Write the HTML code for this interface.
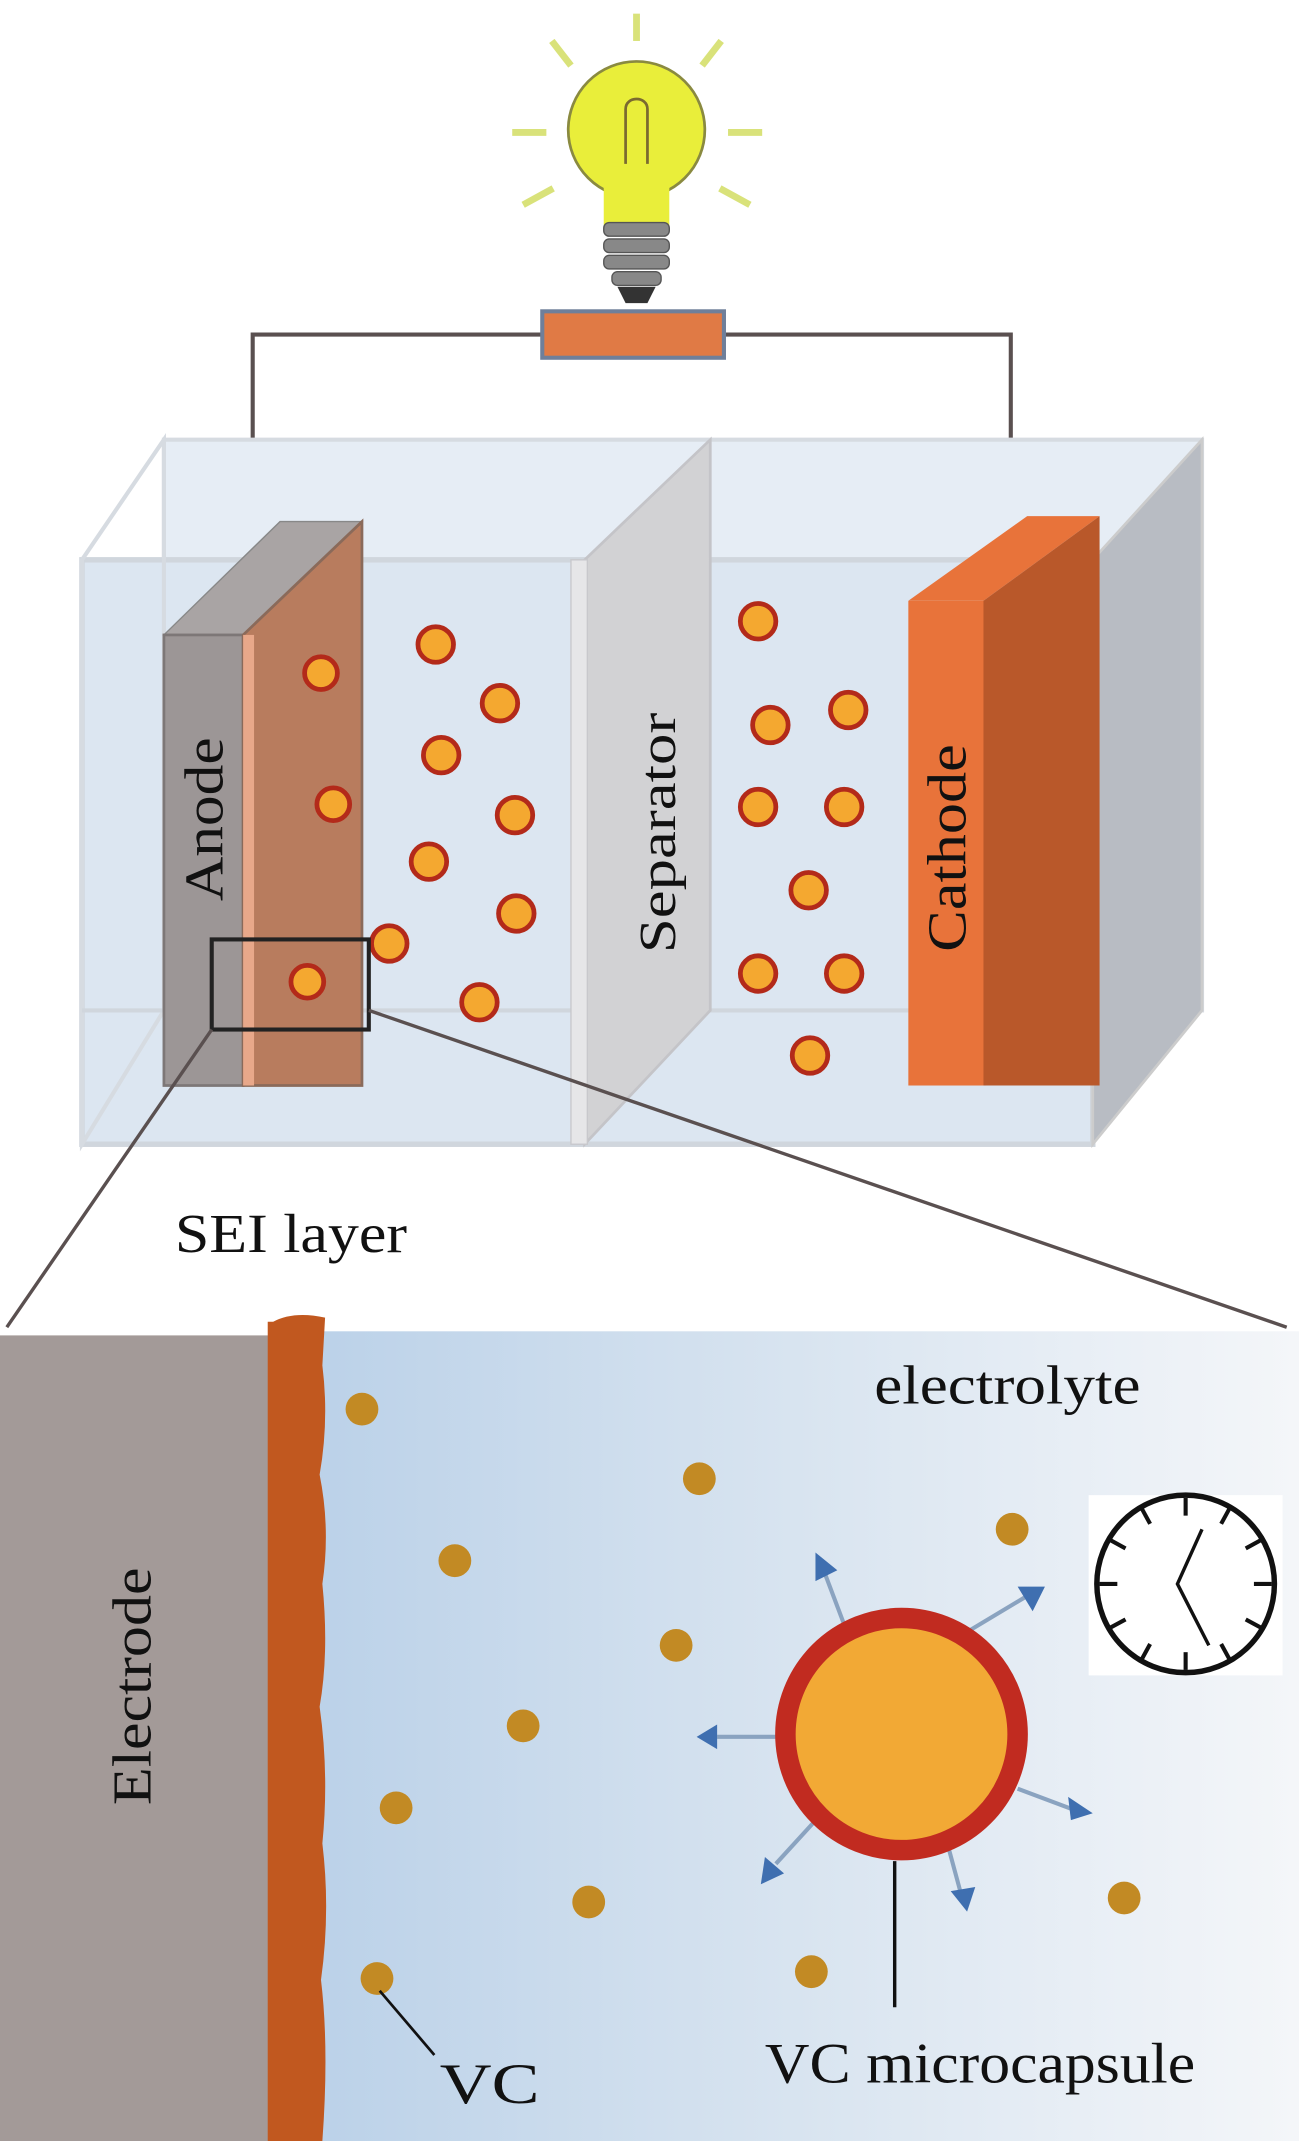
<!DOCTYPE html>
<html><head><meta charset="utf-8"><style>html,body{margin:0;padding:0;background:#fff}svg{display:block}</style></head>
<body>
<svg width="1299" height="2141" viewBox="0 0 951 1568" preserveAspectRatio="none" xmlns="http://www.w3.org/2000/svg">
<defs>
<linearGradient id="el" x1="0" x2="1" y1="0" y2="0">
<stop offset="0" stop-color="#b9d0e8"/><stop offset="0.45" stop-color="#d5e2ef"/><stop offset="1" stop-color="#f4f6f9"/>
</linearGradient>
</defs>
<rect width="951" height="1568" fill="#fff"/>
<g stroke="#d9e27a" stroke-width="5">
<line x1="466" y1="10" x2="466" y2="30"/>
<line x1="404" y1="30" x2="418" y2="48"/>
<line x1="528" y1="30" x2="514" y2="48"/>
<line x1="375" y1="97" x2="400" y2="97"/>
<line x1="533" y1="97" x2="558" y2="97"/>
<line x1="383" y1="150" x2="405" y2="138"/>
<line x1="549" y1="150" x2="527" y2="138"/>
</g>
<circle cx="466" cy="95" r="50" fill="#e9ee3a" stroke="#8a8a40" stroke-width="2"/>
<rect x="442" y="135" width="48" height="30" fill="#e9ee3a"/>
<path d="M458 120 v-40 c0-10 16-10 16 0 v40" fill="none" stroke="#7a6a30" stroke-width="2"/>
<g fill="#888" stroke="#555">
<rect x="442" y="163" width="48" height="10" rx="4"/>
<rect x="442" y="175" width="48" height="10" rx="4"/>
<rect x="442" y="187" width="48" height="10" rx="4"/>
<rect x="448" y="199" width="36" height="10" rx="4"/>
</g>
<path d="M452 210 h28 l-6 12 h-16z" fill="#333"/>
<path d="M398 245 H185 V412" fill="none" stroke="#5a5050" stroke-width="3"/>
<path d="M530 245 H740 V412" fill="none" stroke="#5a5050" stroke-width="3"/>
<rect x="397" y="228" width="133" height="34" fill="#e07a45" stroke="#6f7f9a" stroke-width="3"/>
<rect x="120" y="322" width="760" height="418" fill="#e6edf5" stroke="#d6dbe1" stroke-width="3"/>
<rect x="60" y="410" width="740" height="428" fill="#dce6f1" stroke="#d0d6dd" stroke-width="4"/>
<polygon points="800,410 880,322 880,740 800,838" fill="#b8bcc3" stroke="#ccc" stroke-width="2"/>
<polygon points="60,410 120,322 120,740 60,838" fill="none" stroke="#d6dbe1" stroke-width="3"/>
<line x1="60" y1="740" x2="800" y2="740" stroke="#d0d6dd" stroke-width="3"/>
<polygon points="428,410 520,322 520,740 428,838" fill="#d2d2d4" stroke="#c4c4c8" stroke-width="2"/>
<rect x="418" y="410" width="12" height="428" fill="#e6e6e8" stroke="#c8c8cc"/>
<text transform="translate(494,698) rotate(-90)" font-family="Liberation Serif,serif" font-size="38" textLength="176" lengthAdjust="spacingAndGlyphs" fill="#111">Separator</text>
<polygon points="120,465 178,465 265,382 205,382" fill="#a9a4a4" stroke="#888"/>
<rect x="120" y="465" width="58" height="330" fill="#9c9696" stroke="#7d7777" stroke-width="2"/>
<polygon points="178,465 265,382 265,795 178,795" fill="#b87c5e" stroke="#8a6a5a" stroke-width="2"/>
<rect x="178" y="465" width="8" height="330" fill="#e8a88a"/>
<text transform="translate(163,660) rotate(-90)" font-family="Liberation Serif,serif" font-size="40" textLength="120" lengthAdjust="spacingAndGlyphs" fill="#111">Anode</text>
<polygon points="665,440 720,440 805,378 752,378" fill="#e8733a"/>
<rect x="665" y="440" width="57" height="355" fill="#e8733a"/>
<polygon points="720,440 805,378 805,795 720,795" fill="#b9582a"/>
<text transform="translate(707,697) rotate(-90)" font-family="Liberation Serif,serif" font-size="40" textLength="152" lengthAdjust="spacingAndGlyphs" fill="#111">Cathode</text>
<g fill="#f4a830" stroke="#b32a1a" stroke-width="3.5">
<circle cx="235" cy="493" r="12"/><circle cx="244" cy="589" r="12"/><circle cx="225" cy="719" r="12"/>
<circle cx="319" cy="472" r="13"/><circle cx="366" cy="515" r="13"/><circle cx="323" cy="553" r="13"/>
<circle cx="377" cy="597" r="13"/><circle cx="314" cy="631" r="13"/><circle cx="378" cy="669" r="13"/>
<circle cx="285" cy="691" r="13"/><circle cx="351" cy="734" r="13"/>
<circle cx="555" cy="455" r="13"/><circle cx="564" cy="531" r="13"/><circle cx="621" cy="520" r="13"/>
<circle cx="555" cy="591" r="13"/><circle cx="618" cy="591" r="13"/><circle cx="592" cy="652" r="13"/>
<circle cx="555" cy="713" r="13"/><circle cx="618" cy="713" r="13"/><circle cx="593" cy="773" r="13"/>
</g>
<rect x="155" y="688" width="115" height="66" fill="none" stroke="#222" stroke-width="3"/>
<line x1="155" y1="754" x2="5" y2="972" stroke="#5a5050" stroke-width="2.5"/>
<line x1="270" y1="740" x2="942" y2="972" stroke="#5a5050" stroke-width="2.5"/>
<text x="128" y="917" font-family="Liberation Serif,serif" font-size="40" textLength="170" lengthAdjust="spacingAndGlyphs" fill="#111">SEI layer</text>
<rect x="205" y="975" width="746" height="593" fill="url(#el)"/>
<rect x="0" y="978" width="205" height="590" fill="#a39a98"/>
<path d="M200 968 Q215 960 238 965 L236 1000 Q241 1040 234 1080 Q242 1120 236 1160 Q241 1210 234 1250 Q241 1300 236 1350 Q242 1400 235 1450 Q241 1500 236 1568 L196 1568 L196 968 Z" fill="#c1581f"/>
<text transform="translate(110,1322) rotate(-90)" font-family="Liberation Serif,serif" font-size="40" textLength="174" lengthAdjust="spacingAndGlyphs" fill="#111">Electrode</text>
<text x="640" y="1028" font-family="Liberation Serif,serif" font-size="40" textLength="195" lengthAdjust="spacingAndGlyphs" fill="#111">electrolyte</text>
<g fill="#c28a24">
<circle cx="265" cy="1032" r="12"/><circle cx="512" cy="1083" r="12"/><circle cx="333" cy="1143" r="12"/>
<circle cx="495" cy="1205" r="12"/><circle cx="383" cy="1264" r="12"/><circle cx="290" cy="1324" r="12"/>
<circle cx="431" cy="1393" r="12"/><circle cx="276" cy="1449" r="12"/><circle cx="594" cy="1444" r="12"/>
<circle cx="741" cy="1120" r="12"/><circle cx="823" cy="1390" r="12"/>
</g>
<g stroke="#8aa3c0" stroke-width="3" fill="#3f6fb0">
<line x1="620" y1="1195" x2="603" y2="1150"/><polygon points="597,1137 613,1150 597,1158" stroke="none"/>
<line x1="700" y1="1200" x2="750" y2="1170"/><polygon points="765,1162 745,1162 756,1180" stroke="none"/>
<line x1="572" y1="1272" x2="525" y2="1272"/><polygon points="510,1272 525,1263 525,1281" stroke="none"/>
<line x1="745" y1="1310" x2="785" y2="1325"/><polygon points="800,1328 782,1316 784,1333" stroke="none"/>
<line x1="600" y1="1330" x2="568" y2="1365"/><polygon points="557,1380 560,1360 574,1372" stroke="none"/>
<line x1="693" y1="1348" x2="703" y2="1385"/><polygon points="708,1400 696,1385 714,1382" stroke="none"/>
</g>
<circle cx="660" cy="1270" r="85" fill="#f2a935" stroke="#c12b20" stroke-width="15"/>
<line x1="655" y1="1363" x2="655" y2="1470" stroke="#111" stroke-width="2.5"/>
<rect x="797" y="1095" width="142" height="132" fill="#fff"/>
<circle cx="868" cy="1160" r="65" fill="#fff" stroke="#111" stroke-width="4"/>
<g stroke="#111" stroke-width="3">
<line x1="868" y1="1097" x2="868" y2="1110"/><line x1="868" y1="1210" x2="868" y2="1223"/>
<line x1="805" y1="1160" x2="818" y2="1160"/><line x1="918" y1="1160" x2="931" y2="1160"/>
<line x1="836" y1="1105" x2="842" y2="1116"/><line x1="900" y1="1105" x2="894" y2="1116"/>
<line x1="813" y1="1128" x2="824" y2="1134"/><line x1="923" y1="1128" x2="912" y2="1134"/>
<line x1="813" y1="1192" x2="824" y2="1186"/><line x1="923" y1="1192" x2="912" y2="1186"/>
<line x1="836" y1="1215" x2="842" y2="1204"/><line x1="900" y1="1215" x2="894" y2="1204"/>
</g>
<path d="M880 1120 L862 1160 L885 1205" fill="none" stroke="#111" stroke-width="2.5"/>
<line x1="278" y1="1458" x2="318" y2="1505" stroke="#111" stroke-width="2"/>
<text x="322" y="1540" font-family="Liberation Serif,serif" font-size="42" textLength="73" lengthAdjust="spacingAndGlyphs" fill="#111">VC</text>
<text x="560" y="1525" font-family="Liberation Serif,serif" font-size="42" textLength="315" lengthAdjust="spacingAndGlyphs" fill="#111">VC microcapsule</text>
</svg>
</body></html>
